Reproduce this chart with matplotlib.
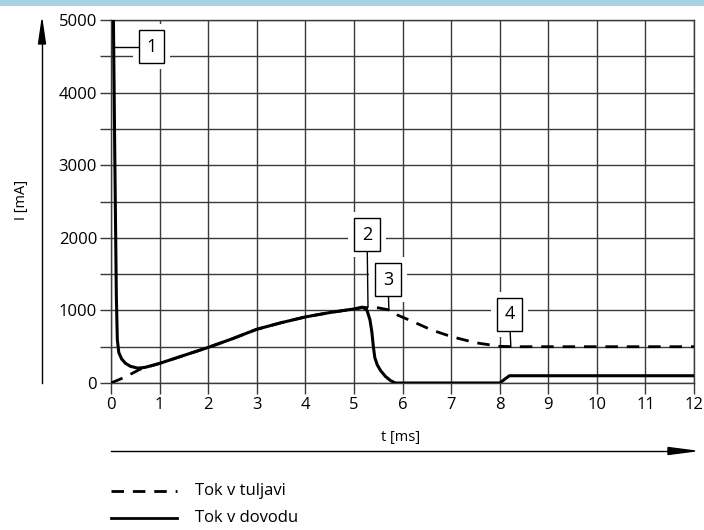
import matplotlib
matplotlib.use("Agg")
import matplotlib.pyplot as plt
from matplotlib.lines import Line2D
from matplotlib.patches import Rectangle, FancyArrow
import numpy as np

plt.rcParams["font.family"] = ["Open Sans", "DejaVu Sans"]

# ---------------------------------------------------------------------------
# Data
# ---------------------------------------------------------------------------
t_coil = [0, 0.3, 0.6, 1.0, 1.5, 2.0, 2.5, 3.0, 3.5, 4.0, 4.5, 5.0, 5.2,
          5.5, 5.7, 5.9, 6.2, 6.6, 7.0, 7.5, 8.0, 8.3, 12]
i_coil = [0, 85, 190, 270, 380, 490, 610, 740, 830, 910, 970, 1020, 1040,
          1035, 1010, 935, 850, 730, 640, 555, 505, 500, 500]

t_supply = [0.05, 0.08, 0.11, 0.13, 0.16, 0.22, 0.3, 0.4, 0.55, 0.7, 1.0,
            1.5, 2.0, 2.5, 3.0, 3.5, 4.0, 4.5, 5.0, 5.18, 5.27, 5.33, 5.37,
            5.40, 5.43, 5.48, 5.55, 5.65, 5.75, 5.85, 8.0, 8.2, 12]
i_supply = [5000, 3000, 1200, 600, 420, 330, 270, 230, 205, 215, 270,
            380, 490, 610, 740, 830, 910, 970, 1020, 1045, 1000, 870, 700,
            500, 350, 250, 170, 90, 35, 0, 0, 100, 100]

x_ticks = list(range(0, 13))
y_ticks = [0, 1000, 2000, 3000, 4000, 5000]

# callout labels: (text, box centre t, box centre I, leader end t, leader end I)
callouts = [
    ("1", 0.83, 4630, 0.08, 4630),
    ("2", 5.27, 2040, 5.29, 1045),
    ("3", 5.70, 1420, 5.72, 1010),
    ("4", 8.20, 945, 8.23, 500),
]

INK = "#000000"
GRID = "#3a3a3a"

fig = plt.figure(figsize=(7.04, 5.30), dpi=100)
fig.patches.append(Rectangle((0, 1 - 6 / 530), 1, 6 / 530, transform=fig.transFigure,
                             facecolor="#a8d3e6", edgecolor="none"))

ax = fig.add_axes([111 / 704, 1 - 383 / 530, 583 / 704, 363 / 530])
ax.set_xlim(0, 12)
ax.set_ylim(0, 5000)

# grid
ax.set_xticks(x_ticks)
ax.set_yticks(np.arange(0, 5001, 500), minor=False)
ax.set_yticklabels([str(v) if v in y_ticks else "" for v in np.arange(0, 5001, 500)])
ax.grid(True, color=GRID, linewidth=1.0, zorder=0)
ax.tick_params(direction="out", length=8, width=1.0, color=GRID, labelsize=12,
               pad=2)
for s in ax.spines.values():
    s.set_color(GRID)
    s.set_linewidth(1.0)

# curves
ax.plot(t_coil, i_coil, color=INK, linewidth=2.0, dashes=(4.5, 3.2), zorder=3,
        solid_capstyle="butt", dash_capstyle="butt")
ax.plot(t_supply, i_supply, color=INK, linewidth=2.2, zorder=4,
        solid_joinstyle="round")

# callouts with white clearance behind boxes
for label, bx, by, lx, ly in callouts:
    ax.plot([lx, bx], [ly, ly] if label == "1" else [ly, by], color=INK,
            linewidth=1.0, zorder=6.5)
    ax.text(bx, by, label, ha="center", va="center", fontsize=13, zorder=7,
            bbox=dict(boxstyle="square,pad=0.42", facecolor="white",
                      edgecolor=INK, linewidth=1.0))
    ax.text(bx, by, label, ha="center", va="center", fontsize=13, zorder=6,
            color="white",
            bbox=dict(boxstyle="square,pad=0.75", facecolor="white",
                      edgecolor="none"))

# axis arrows and labels
fig.add_artist(Line2D([42 / 704, 42 / 704], [1 - 383 / 530, 1 - 42 / 530],
                      color=INK, linewidth=1.0))
fig.patches.append(FancyArrow(42 / 704, 1 - 44 / 530, 0, 24 / 530, width=0,
                              head_width=7 / 704, head_length=24 / 530,
                              length_includes_head=True, color=INK,
                              transform=fig.transFigure))
fig.add_artist(Line2D([111 / 704, 670 / 704], [1 - 451 / 530, 1 - 451 / 530],
                      color=INK, linewidth=1.0))
fig.patches.append(FancyArrow(668 / 704, 1 - 451 / 530, 27 / 704, 0, width=0,
                              head_width=7 / 530, head_length=27 / 704,
                              length_includes_head=True, color=INK,
                              transform=fig.transFigure))
fig.text(22 / 704, 1 - 200 / 530, "I [mA]", rotation=90, ha="center", va="center",
         fontsize=10.5)
fig.text(401 / 704, 1 - 437 / 530, "t [ms]", ha="center", va="center", fontsize=10.5)

# legend
fig.add_artist(Line2D([111 / 704, 177 / 704], [1 - 491 / 530, 1 - 491 / 530],
                      color=INK, linewidth=2.0, dashes=(4.5, 3.2)))
fig.add_artist(Line2D([111 / 704, 177 / 704], [1 - 518 / 530, 1 - 518 / 530],
                      color=INK, linewidth=2.0))
fig.text(195 / 704, 1 - 491 / 530, "Tok v tuljavi", ha="left", va="center", fontsize=12)
fig.text(195 / 704, 1 - 518 / 530, "Tok v dovodu", ha="left", va="center", fontsize=12)

fig.savefig("out.png", dpi=100, facecolor="white")
